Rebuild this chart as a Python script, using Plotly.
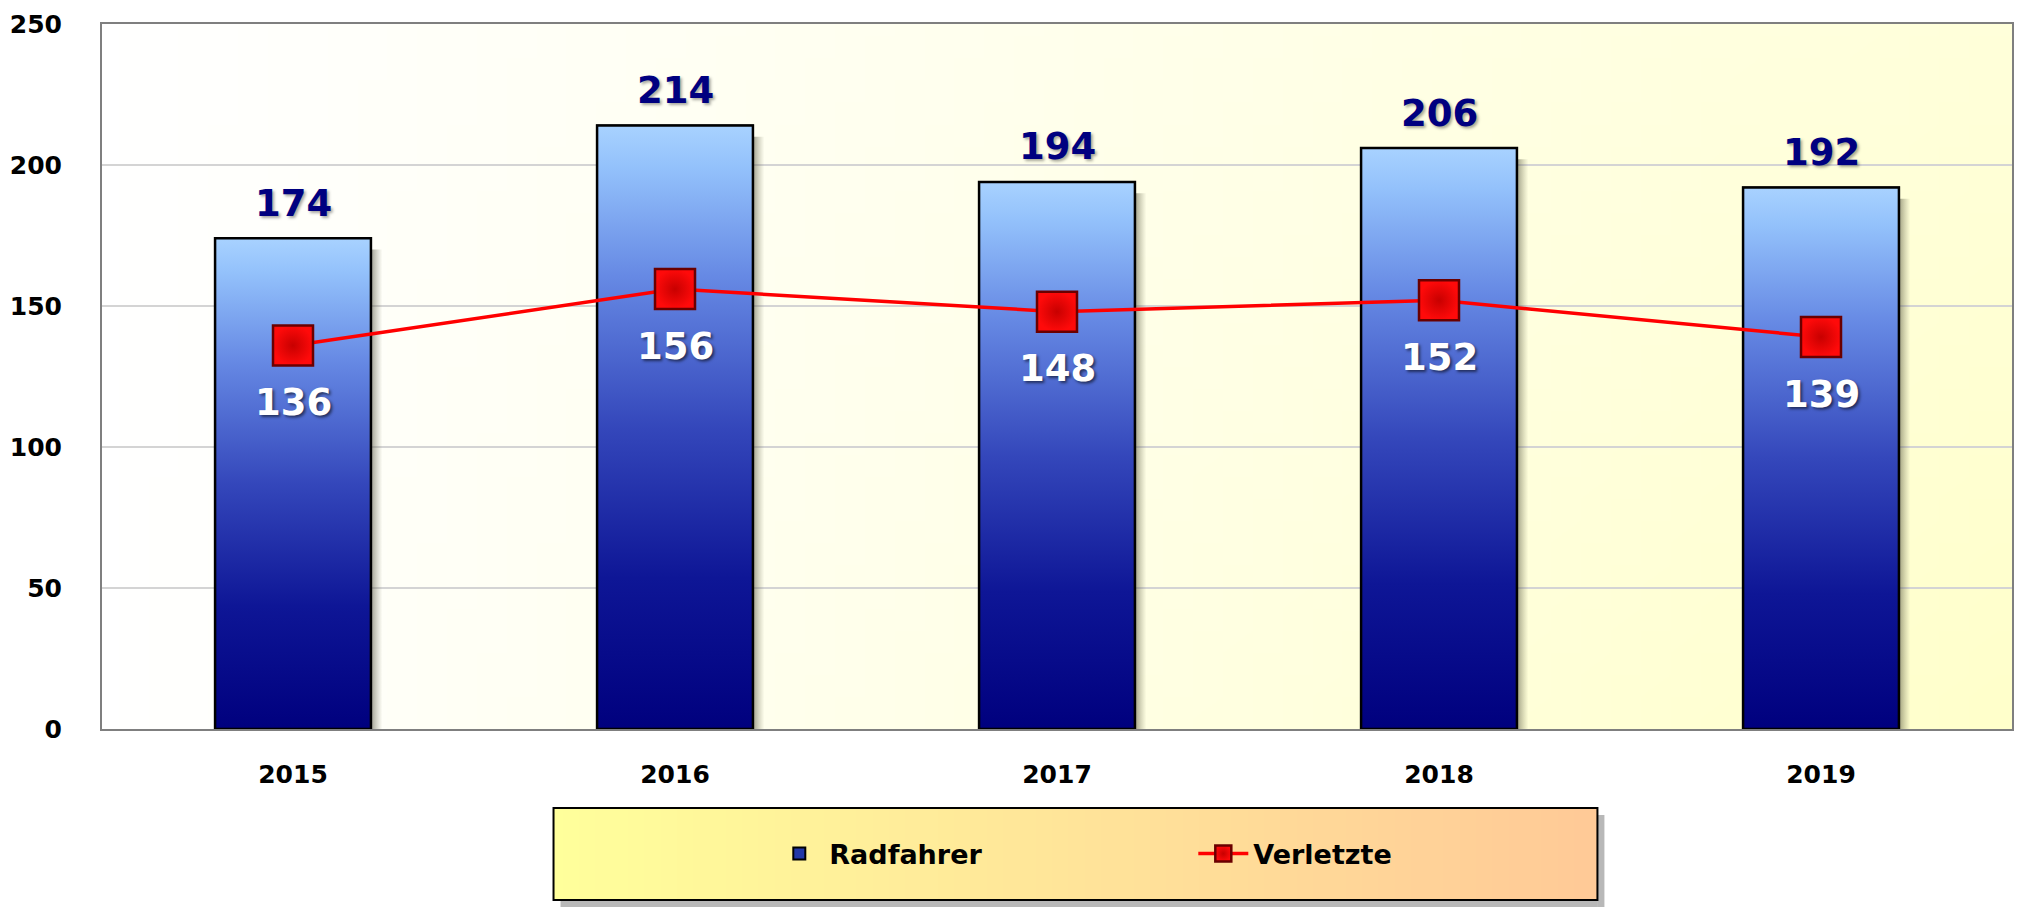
import zlib, struct, base64
import plotly.graph_objects as go

# ---------------- data ----------------
years = [2015, 2016, 2017, 2018, 2019]
radfahrer = [174, 214, 194, 206, 192]
verletzte = [136, 156, 148, 152, 139]
y_ticks = [0, 50, 100, 150, 200, 250]

# ---------------- geometry helpers ----------------
W, H = 2022, 908
ML, MR, MT, MB = 102, 8, 24, 179
PW, PH = W - ML - MR, H - MT - MB


def px_x(p):
    return (p - ML) / PW


def px_y(p):
    return (H - MB - p) / PH


def png_uri(w, h, pixel):
    rows = []
    for j in range(h):
        row = bytearray([0])
        for i in range(w):
            row.extend(pixel(i / (w - 1), j / (h - 1)))
        rows.append(bytes(row))
    raw = b"".join(rows)

    def chunk(t, d):
        return struct.pack(">I", len(d)) + t + d + struct.pack(">I", zlib.crc32(t + d) & 0xFFFFFFFF)

    data = (b"\x89PNG\r\n\x1a\n"
            + chunk(b"IHDR", struct.pack(">IIBBBBB", w, h, 8, 2, 0, 0, 0))
            + chunk(b"IDAT", zlib.compress(raw))
            + chunk(b"IEND", b""))
    return "data:image/png;base64," + base64.b64encode(data).decode()


def plot_bg(u, v):
    t = u * (0.72 + 0.28 * v)
    return (255, 255, int(round(255 - 52 * t)))


def legend_bg(u, v):
    return (255, int(round(255 - 53 * u)), int(round(155 - 4 * u)))


bg_uri = png_uri(64, 32, plot_bg)
leg_uri = png_uri(64, 4, legend_bg)

FONT = "DejaVu Sans, Verdana, sans-serif"
bar_w = 0.408

fig = go.Figure()

# real bar trace (carries the legend entry)
fig.add_trace(go.Bar(
    x=years, y=radfahrer, width=bar_w, name="Radfahrer",
    marker=dict(color="#2238A8", line=dict(color="#000000", width=2)),
    hoverinfo="x+y",
))

# soft shadow right of each bar
for xv, v in zip(years, radfahrer):
    sx0 = xv + bar_w / 2
    sx1 = sx0 + 0.03
    fig.add_trace(go.Scatter(
        x=[sx0, sx1, sx1, sx0, sx0], y=[0, 0, v - 4, v - 4, 0],
        mode="lines", fill="toself", line=dict(width=0),
        fillgradient=dict(type="horizontal",
                          colorscale=[[0, "rgba(80,80,60,0.55)"], [1, "rgba(120,120,90,0.0)"]]),
        showlegend=False, hoverinfo="skip",
    ))

# gradient face of each bar, same geometry as the bar trace
for xv, v in zip(years, radfahrer):
    x0, x1 = xv - bar_w / 2, xv + bar_w / 2
    fig.add_trace(go.Scatter(
        x=[x0, x1, x1, x0, x0], y=[0, 0, v, v, 0],
        mode="lines", fill="toself", line=dict(color="#000000", width=2.5),
        fillgradient=dict(type="vertical",
                          colorscale=[[0, "#00007E"], [0.25, "#0E1696"], [0.5, "#3447BB"],
                                      [0.75, "#6689E4"], [0.93, "#93C1FB"], [1, "#A8D2FF"]]),
        showlegend=False, hoverinfo="skip",
    ))

# line series
fig.add_trace(go.Scatter(
    x=years, y=verletzte, name="Verletzte", mode="lines+markers",
    line=dict(color="#FF0000", width=3.5),
    marker=dict(symbol="square", size=40, color="#FF0A0A",
                line=dict(color="#6A0000", width=2.5),
                gradient=dict(type="radial", color="#C80000")),
))

annotations = []
for xv, v in zip(years, radfahrer):
    annotations.append(dict(
        x=xv, y=v, xref="x", yref="y", text=str(v), showarrow=False, yshift=35,
        font=dict(family=FONT, size=37, color="#000080", weight="bold",
                  shadow="2px 2px 3px rgba(0,0,0,0.35)"),
    ))
for xv, v in zip(years, verletzte):
    annotations.append(dict(
        x=xv, y=v, xref="x", yref="y", text=str(v), showarrow=False, yshift=-57,
        font=dict(family=FONT, size=37, color="#FFFFFF", weight="bold",
                  shadow="2px 2px 3px rgba(0,0,0,0.55)"),
    ))

# legend box geometry (paper)
lx0, lx1 = px_x(554), px_x(1599)
ly0, ly1 = px_y(900), px_y(808)
sh_x = 7 / PW
sh_y = 7 / PH

shapes = [
    dict(type="rect", xref="paper", yref="paper", x0=lx1, x1=lx1 + sh_x, y0=ly0 - sh_y, y1=ly1 - sh_y,
         fillcolor="rgba(0,0,0,0.28)", line=dict(width=0), layer="below"),
    dict(type="rect", xref="paper", yref="paper", x0=lx0 + sh_x, x1=lx1, y0=ly0 - sh_y, y1=ly0,
         fillcolor="rgba(0,0,0,0.28)", line=dict(width=0), layer="below"),
    dict(type="rect", xref="paper", yref="paper", x0=lx0, x1=lx1, y0=ly0, y1=ly1,
         fillcolor="rgba(0,0,0,0)", line=dict(color="#000000", width=2)),
]

images = [
    dict(source=bg_uri, xref="paper", yref="paper", x=0, y=1, sizex=1, sizey=1,
         sizing="stretch", xanchor="left", yanchor="top", layer="below"),
    dict(source=leg_uri, xref="paper", yref="paper", x=lx0, y=ly1, sizex=lx1 - lx0, sizey=ly1 - ly0,
         sizing="stretch", xanchor="left", yanchor="top", layer="below"),
]

fig.update_layout(
    width=W, height=H,
    margin=dict(l=ML, r=MR, t=MT, b=MB, pad=0),
    paper_bgcolor="#FFFFFF", plot_bgcolor="rgba(0,0,0,0)",
    font=dict(family=FONT, color="#000000"),
    showlegend=True,
    legend=dict(orientation="h", x=px_x(770), xanchor="left", y=px_y(854), yanchor="middle",
                bgcolor="rgba(0,0,0,0)", borderwidth=0, itemwidth=50,
                entrywidth=359, entrywidthmode="pixels",
                font=dict(family=FONT, size=27, color="#000000", weight="bold"),
                traceorder="normal"),
    annotations=annotations, shapes=shapes, images=images,
    xaxis=dict(range=[2014.5, 2019.5], tickmode="array", tickvals=years,
               ticktext=[str(y) for y in years], showgrid=False, zeroline=False,
               showline=True, mirror=True, linecolor="#7F7F7F", linewidth=2,
               ticks="", ticklabelstandoff=22,
               tickfont=dict(family=FONT, size=25, color="#000000", weight="bold")),
    yaxis=dict(range=[0, 250], tickmode="array", tickvals=y_ticks, showgrid=True,
               gridcolor="#D4D4D4", gridwidth=1.5, zeroline=False,
               showline=True, mirror=True, linecolor="#7F7F7F", linewidth=2,
               ticks="", ticklabelstandoff=33,
               tickfont=dict(family=FONT, size=25, color="#000000", weight="bold")),
    hovermode="closest",
)

fig.write_html("out.html", config={"displayModeBar": False},
               post_script="document.body.style.margin='0';document.body.style.overflow='hidden';")
